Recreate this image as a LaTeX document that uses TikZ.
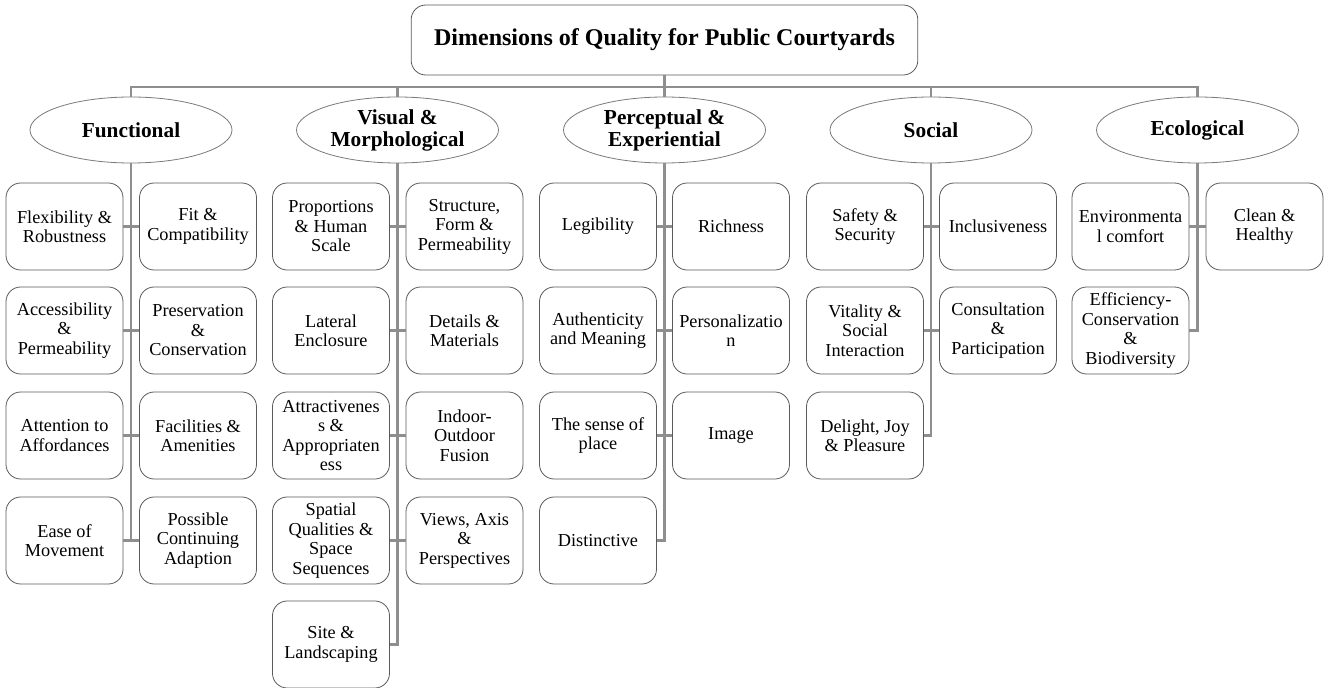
\documentclass[tikz,border=0pt]{standalone}
\usepackage{fontspec}
\setmainfont{Liberation Serif}
\usetikzlibrary{shapes.geometric}
\definecolor{connc}{HTML}{8E8E8E}
\definecolor{boxc}{HTML}{5A5A5A}
\definecolor{ellc}{HTML}{7A7A7A}
\tikzset{
  leaf/.style={draw=boxc, line width=0.6pt, fill=white, rounded corners=11pt,
    minimum width=87.75pt, minimum height=65.25pt, inner sep=0pt, align=center,
    font=\fontsize{13.7}{14.6}\selectfont},
  cat/.style={draw=ellc, line width=0.6pt, fill=white, ellipse,
    minimum width=151.5pt, minimum height=49.5pt, inner sep=0pt, align=center,
    font=\bfseries\fontsize{16}{16.5}\selectfont},
  rootbox/.style={draw=boxc, line width=0.6pt, fill=white, rounded corners=11pt,
    minimum width=380pt, minimum height=52.5pt, inner sep=0pt, align=center,
    font=\bfseries\fontsize{18}{20}\selectfont},
  conn/.style={draw=connc, line width=1.8pt}
}
\begin{document}
\begin{tikzpicture}[x=0.75pt, y=-0.75pt]
\useasboundingbox[fill=white] (0,0) rectangle (1325,688);
% root
\node[rootbox] (root) at (664.5,40) {Dimensions of Quality for Public Courtyards};
\coordinate (bus) at (131,87);
% categories
\node[cat] (c1) at (131,130) {Functional};
\node[cat] (c2) at (397.5,130) {Visual \&\\Morphological};
\node[cat] (c3) at (664.5,130) {Perceptual \&\\Experiential};
\node[cat] (c4) at (931,130) {Social};
\node[cat] (c5) at (1197.5,130) {Ecological};
% Functional
\node[leaf] (f1a) at (64.5,226.5) {Flexibility \&\\Robustness};
\node[leaf] (f1b) at (198,226.5) {Fit \&\\Compatibility};
\node[leaf] (f2a) at (64.5,330.5) {Accessibility\\\&\\Permeability};
\node[leaf] (f2b) at (198,330.5) {Preservation\\\&\\Conservation};
\node[leaf] (f3a) at (64.5,435.5) {Attention to\\Affordances};
\node[leaf] (f3b) at (198,435.5) {Facilities \&\\Amenities};
\node[leaf] (f4a) at (64.5,540.5) {Ease of\\Movement};
\node[leaf] (f4b) at (198,540.5) {Possible\\Continuing\\Adaption};
% Visual
\node[leaf] (v1a) at (331,226.5) {Proportions\\\& Human\\Scale};
\node[leaf] (v1b) at (464.5,226.5) {Structure,\\Form \&\\Permeability};
\node[leaf] (v2a) at (331,330.5) {Lateral\\Enclosure};
\node[leaf] (v2b) at (464.5,330.5) {Details \&\\Materials};
\node[leaf] (v3a) at (331,435.5) {Attractivenes\\s \&\\Appropriaten\\ess};
\node[leaf] (v3b) at (464.5,435.5) {Indoor-\\Outdoor\\Fusion};
\node[leaf] (v4a) at (331,540.5) {Spatial\\Qualities \&\\Space\\Sequences};
\node[leaf] (v4b) at (464.5,540.5) {Views, Axis\\\&\\Perspectives};
\node[leaf] (v5a) at (331,644.5) {Site \&\\Landscaping};
% Perceptual
\node[leaf] (p1a) at (598,226.5) {Legibility};
\node[leaf] (p1b) at (731,226.5) {Richness};
\node[leaf] (p2a) at (598,330.5) {Authenticity\\and Meaning};
\node[leaf] (p2b) at (731,330.5) {Personalizatio\\n};
\node[leaf] (p3a) at (598,435.5) {The sense of\\place};
\node[leaf] (p3b) at (731,435.5) {Image};
\node[leaf] (p4a) at (598,540.5) {Distinctive};
% Social
\node[leaf] (s1a) at (865,226.5) {Safety \&\\Security};
\node[leaf] (s1b) at (998,226.5) {Inclusiveness};
\node[leaf] (s2a) at (865,330.5) {Vitality \&\\Social\\Interaction};
\node[leaf] (s2b) at (998,330.5) {Consultation\\\&\\Participation};
\node[leaf] (s3a) at (865,435.5) {Delight, Joy\\\& Pleasure};
% Ecological
\node[leaf] (e1a) at (1130.5,226.5) {Environmenta\\l comfort};
\node[leaf] (e1b) at (1264.5,226.5) {Clean \&\\Healthy};
\node[leaf] (e2a) at (1130.5,330.5) {Efficiency-\\Conservation\\\&\\Biodiversity};
% connectors: root and bus
\draw[conn] (root.south) -- (root.south |- bus);
\draw[conn] (c1.north) -- (c1.north |- bus) -- (c5.north |- bus) -- (c5.north);
\draw[conn] (c2.north) -- (c2.north |- bus);
\draw[conn] (c3.north) -- (c3.north |- bus);
\draw[conn] (c4.north) -- (c4.north |- bus);
% Functional
\draw[conn] (c1.south) -- (c1.south |- f4a.east);
\draw[conn] (f1a.east) -- (f1b.west);
\draw[conn] (f2a.east) -- (f2b.west);
\draw[conn] (f3a.east) -- (f3b.west);
\draw[conn] (f4a.east) -- (f4b.west);
% Visual
\draw[conn] (c2.south) |- (v5a.east);
\draw[conn] (v1a.east) -- (v1b.west);
\draw[conn] (v2a.east) -- (v2b.west);
\draw[conn] (v3a.east) -- (v3b.west);
\draw[conn] (v4a.east) -- (v4b.west);
% Perceptual
\draw[conn] (c3.south) |- (p4a.east);
\draw[conn] (p1a.east) -- (p1b.west);
\draw[conn] (p2a.east) -- (p2b.west);
\draw[conn] (p3a.east) -- (p3b.west);
% Social
\draw[conn] (c4.south) |- (s3a.east);
\draw[conn] (s1a.east) -- (s1b.west);
\draw[conn] (s2a.east) -- (s2b.west);
% Ecological
\draw[conn] (c5.south) |- (e2a.east);
\draw[conn] (e1a.east) -- (e1b.west);
\end{tikzpicture}
\end{document}
